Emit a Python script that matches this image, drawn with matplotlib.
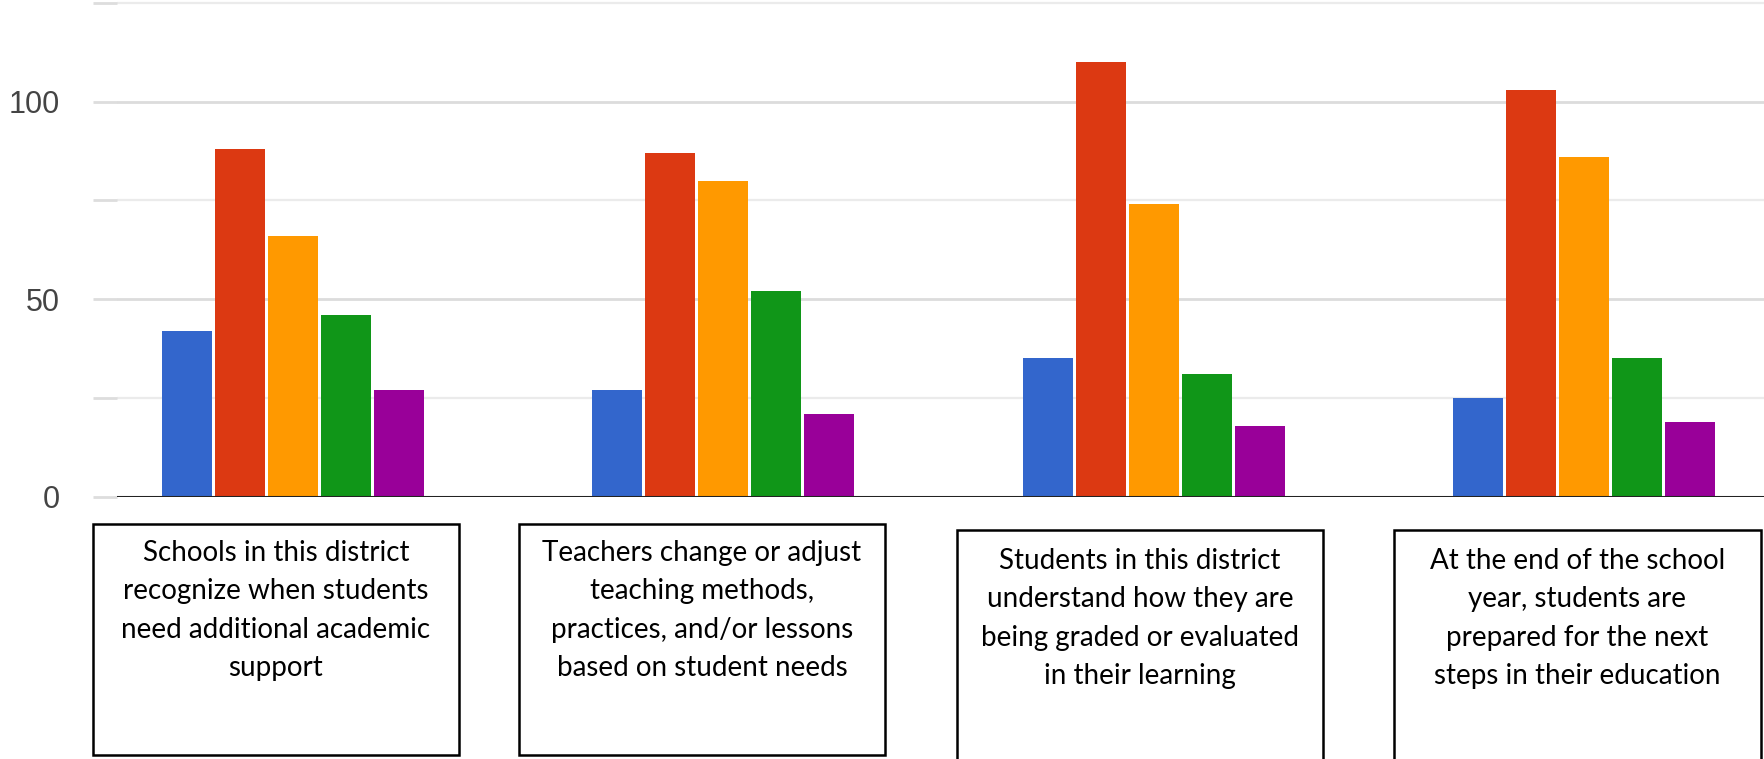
#!/bin/py
#
# grouped bar chart with text boxes under each group
#
import numpy as np
import matplotlib
matplotlib.use('Agg')
import matplotlib.pyplot as plt
from matplotlib.patches import Rectangle

# data
groups = [0, 1, 2, 3]
series1 = [42, 27, 35, 25]
series2 = [88, 87, 110, 103]
series3 = [66, 80, 74, 86]
series4 = [46, 52, 31, 35]
series5 = [27, 21, 18, 19]
colors = ['#3366cc', '#dc3912', '#ff9900', '#109618', '#990099']

major_ticks = [0, 50, 100]
minor_ticks = [25, 75, 125]

box_lines = [
    ["Schools in this district", "recognize when students",
     "need additional academic", "support"],
    ["Teachers change or adjust", "teaching methods,",
     "practices, and/or lessons", "based on student needs"],
    ["Students in this district", "understand how they are",
     "being graded or evaluated", "in their learning"],
    ["At the end of the school", "year, students are",
     "prepared for the next", "steps in their education"],
]

W, H = 1765, 759


def main():
    fig = plt.figure(figsize=(W / 100, H / 100), dpi=100)
    ax = fig.add_axes([117 / W, 1 - 496.7 / H, 1 - 117 / W, 496.7 / H])

    slot = 0.1232
    allseries = [series1, series2, series3, series4, series5]
    x = np.array(groups, dtype=float)
    for i, vals in enumerate(allseries):
        ax.bar(x + (i - 2) * slot, vals, width=slot * 0.945,
               color=colors[i], zorder=3)

    ax.set_xlim(-0.409, 3.4206)
    ax.set_ylim(0, 125.7)

    for s in ax.spines.values():
        s.set_visible(False)
    ax.set_xticks([])

    ax.set_yticks(major_ticks)
    ax.set_yticks(minor_ticks, minor=True)
    ax.tick_params(axis='y', which='both', length=17, width=2,
                   color='#dddddd', pad=24, labelsize=22,
                   labelcolor='#444444')
    for lab in ax.get_yticklabels():
        lab.set_family('Liberation Sans')

    ax.grid(axis='y', which='major', color='#dcdcdc', linewidth=2.0, zorder=0)
    ax.grid(axis='y', which='minor', color='#ebebeb', linewidth=1.6, zorder=0)
    ax.axhline(0, color='#222222', linewidth=2.2, zorder=4)
    # darker tick for the zero line
    ax.yaxis.get_major_ticks()[0].tick1line.set_color('#444444')

    # text boxes below the chart
    rects = [(93, 459, 524, 755), (519, 885, 524, 755),
             (957, 1323, 530, 790), (1394, 1761, 530, 790)]
    first_line = [553, 553, 561, 561]
    for k, (x0, x1, y0, y1) in enumerate(rects):
        fig.add_artist(Rectangle((x0 / W, 1 - y1 / H), (x1 - x0) / W,
                                 (y1 - y0) / H, transform=fig.transFigure,
                                 fill=False, edgecolor='black', linewidth=1.8))
        cx = (x0 + x1) / 2 / W
        for j, line in enumerate(box_lines[k]):
            fig.text(cx, 1 - (first_line[k] + 38.3 * j) / H, line,
                     ha='center', va='center', fontsize=20,
                     family='Lato', color='black')

    plt.savefig('out.png', dpi=100)


main()
